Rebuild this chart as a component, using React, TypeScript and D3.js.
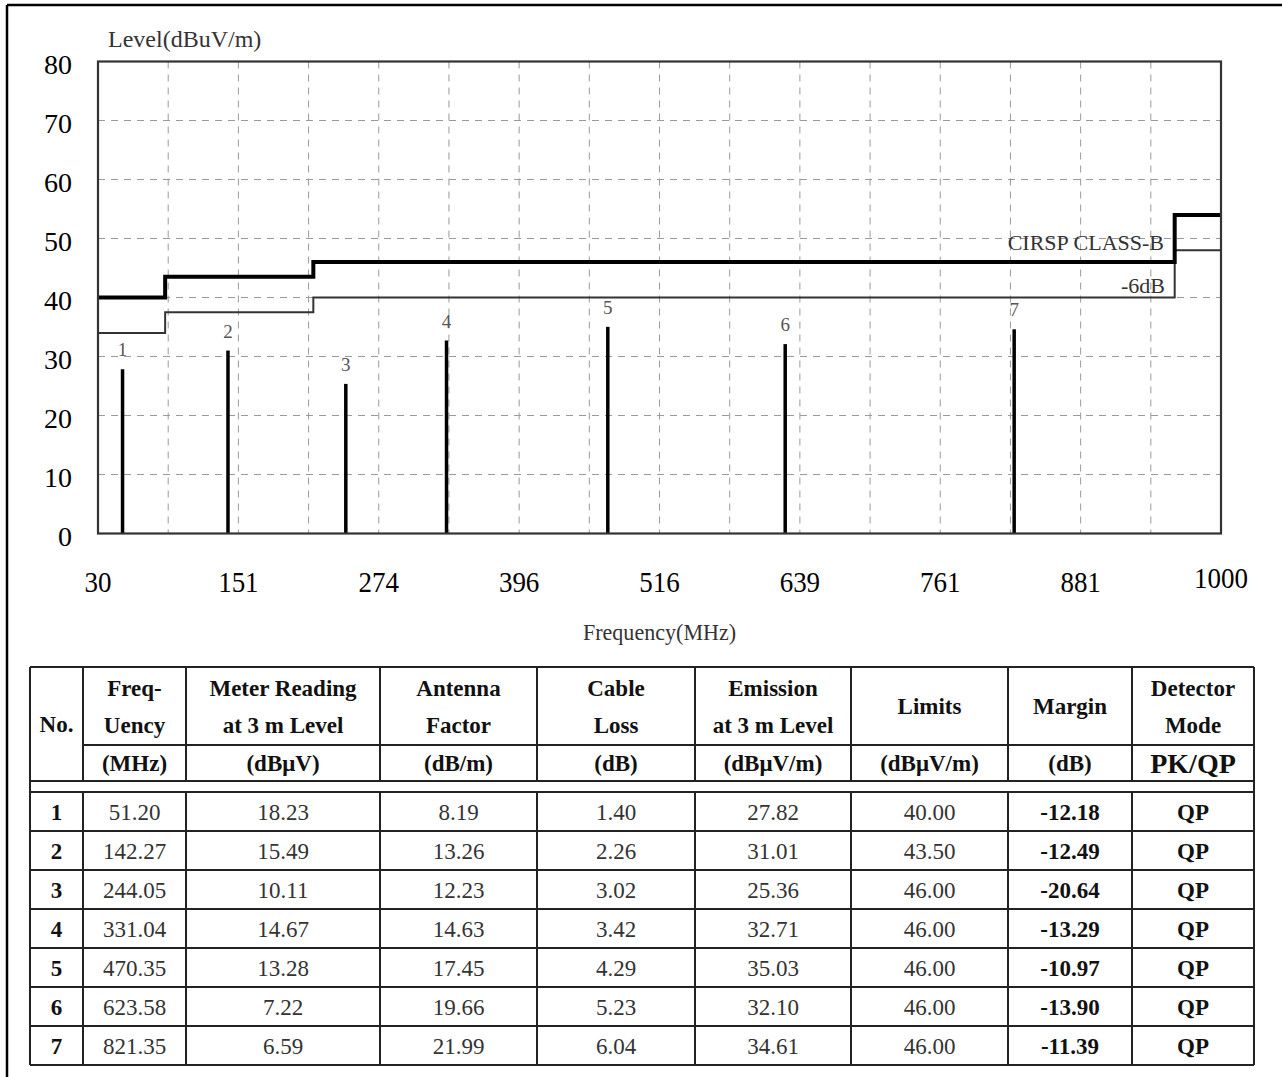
import React from "react";
import * as d3 from "d3";

// ---------- data ----------
const markerNo = [1, 2, 3, 4, 5, 6, 7];
const freqMHz = [51.2, 142.27, 244.05, 331.04, 470.35, 623.58, 821.35];
const meterReading = [18.23, 15.49, 10.11, 14.67, 13.28, 7.22, 6.59];
const antennaFactor = [8.19, 13.26, 12.23, 14.63, 17.45, 19.66, 21.99];
const cableLoss = [1.4, 2.26, 3.02, 3.42, 4.29, 5.23, 6.04];
const emissionLevel = [27.82, 31.01, 25.36, 32.71, 35.03, 32.1, 34.61];
const limitValues = [40.0, 43.5, 46.0, 46.0, 46.0, 46.0, 46.0];
const marginValues = [-12.18, -12.49, -20.64, -13.29, -10.97, -13.9, -11.39];
const detectorMode = ["QP", "QP", "QP", "QP", "QP", "QP", "QP"];

const limitFreqs = [30, 88, 216, 960, 1000];
const classBLimit = [40, 43.5, 46, 54, 54];
const minus6Limit = [34, 37.5, 40, 48, 48];

const xTickLabels = ["30", "151", "274", "396", "516", "639", "761", "881", "1000"];
const yTicks = [0, 10, 20, 30, 40, 50, 60, 70, 80];

const SERIF = "'Liberation Serif', 'Times New Roman', serif";

// ---------- layout ----------
const W = 1282;
const H = 1077;
const plot = { left: 98, right: 1221, top: 61.5, bottom: 533.5 };

const colEdges = [30, 83, 186, 380, 537, 695, 851, 1008, 1132, 1254];
const hTop = 667;
const hMid = 745;
const hBot = 781;
const gapBot = 792;
const rowH = 39;

export default function App() {
  const x = d3.scaleLinear().domain([30, 1000]).range([plot.left, plot.right]);
  const y = d3.scaleLinear().domain([0, 80]).range([plot.bottom, plot.top]);
  const xLabel = d3.scalePoint<string>().domain(xTickLabels).range([plot.left, plot.right]);
  const gridX = d3.scaleLinear().domain([0, 16]).range([plot.left, plot.right]);

  const stepLine = d3
    .line<number>()
    .x((_, i) => x(limitFreqs[i]))
    .y((d) => y(d))
    .curve(d3.curveStepAfter);

  const fmt = (v: number) => v.toFixed(2);

  const rowTop = (i: number) => gapBot + i * rowH;
  const colCenter = (c: number) => (colEdges[c] + colEdges[c + 1]) / 2;
  const tableRight = colEdges[colEdges.length - 1];
  const tableLeft = colEdges[0];

  const headerTwoLine: { col: number; lines: string[]; unit: string; unitBig?: boolean }[] = [
    { col: 1, lines: ["Freq-", "Uency"], unit: "(MHz)" },
    { col: 2, lines: ["Meter Reading", "at 3 m Level"], unit: "(dBμV)" },
    { col: 3, lines: ["Antenna", "Factor"], unit: "(dB/m)" },
    { col: 4, lines: ["Cable", "Loss"], unit: "(dB)" },
    { col: 5, lines: ["Emission", "at 3 m Level"], unit: "(dBμV/m)" },
    { col: 6, lines: ["Limits"], unit: "(dBμV/m)" },
    { col: 7, lines: ["Margin"], unit: "(dB)" },
    { col: 8, lines: ["Detector", "Mode"], unit: "PK/QP", unitBig: true },
  ];

  const columnsData: { values: string[]; bold: boolean }[] = [
    { values: markerNo.map(String), bold: true },
    { values: freqMHz.map(fmt), bold: false },
    { values: meterReading.map(fmt), bold: false },
    { values: antennaFactor.map(fmt), bold: false },
    { values: cableLoss.map(fmt), bold: false },
    { values: emissionLevel.map(fmt), bold: false },
    { values: limitValues.map(fmt), bold: false },
    { values: marginValues.map(fmt), bold: true },
    { values: detectorMode, bold: true },
  ];

  const lineColor = "#222";

  return (
    <svg
      width={W}
      height={H}
      style={{ position: "absolute", left: 0, top: 0, display: "block", background: "#fff" }}
      fontFamily={SERIF}
    >
      <rect x={0} y={0} width={W} height={H} fill="#fff" />
      {/* page frame */}
      <line x1={7} y1={5} x2={W} y2={5} stroke="#000" strokeWidth={2.5} />
      <line x1={7} y1={5} x2={7} y2={H} stroke="#000" strokeWidth={2.5} />

      {/* grid */}
      <g stroke="#9a9a9a" strokeWidth={1} strokeDasharray="7,6">
        {yTicks
          .filter((t) => t > 0 && t < 80)
          .map((t) => (
            <line key={"gy" + t} x1={plot.left} x2={plot.right} y1={y(t)} y2={y(t)} />
          ))}
        {d3.range(1, 16).map((i) => (
          <line key={"gx" + i} x1={gridX(i)} x2={gridX(i)} y1={plot.top} y2={plot.bottom} />
        ))}
      </g>

      {/* limit lines */}
      <path d={stepLine(minus6Limit) || ""} fill="none" stroke="#333" strokeWidth={2} />
      <path d={stepLine(classBLimit) || ""} fill="none" stroke="#000" strokeWidth={4} />

      <text x={1164} y={250} textAnchor="end" fontSize={22} fill="#333">
        CIRSP CLASS-B
      </text>
      <text x={1165} y={293} textAnchor="end" fontSize={22} fill="#333">
        -6dB
      </text>

      {/* markers */}
      {freqMHz.map((f, i) => (
        <g key={"m" + i}>
          <line x1={x(f)} x2={x(f)} y1={y(0)} y2={y(emissionLevel[i])} stroke="#000" strokeWidth={3.5} />
          <text x={x(f)} y={y(emissionLevel[i]) - 13} textAnchor="middle" fontSize={19} fill="#555">
            {markerNo[i]}
          </text>
        </g>
      ))}

      {/* plot border */}
      <rect
        x={plot.left}
        y={plot.top}
        width={plot.right - plot.left}
        height={plot.bottom - plot.top}
        fill="none"
        stroke="#333"
        strokeWidth={2.2}
      />

      {/* y ticks */}
      {yTicks.map((t) => (
        <text key={"yt" + t} x={72} y={y(t) + 12} textAnchor="end" fontSize={28} fill="#000">
          {t}
        </text>
      ))}
      <text x={108} y={47} fontSize={24} fill="#333">
        Level(dBuV/m)
      </text>

      {/* x ticks */}
      {xTickLabels.map((l, i) => (
        <text
          key={"xt" + l}
          transform={`translate(${xLabel(l)},${i === xTickLabels.length - 1 ? 588 : 592}) scale(0.9,1)`}
          textAnchor="middle"
          fontSize={30}
          fill="#000"
        >
          {l}
        </text>
      ))}
      <text transform={`translate(${(plot.left + plot.right) / 2},640) scale(0.92,1)`} textAnchor="middle" fontSize={24} fill="#333">
        Frequency(MHz)
      </text>

      {/* ---------- table ---------- */}
      <g stroke={lineColor} strokeWidth={2} fill="none">
        <line x1={tableLeft} x2={tableRight} y1={hTop} y2={hTop} />
        <line x1={colEdges[1]} x2={tableRight} y1={hMid} y2={hMid} />
        <line x1={tableLeft} x2={tableRight} y1={hBot} y2={hBot} />
        {d3.range(0, markerNo.length + 1).map((i) => (
          <line key={"hr" + i} x1={tableLeft} x2={tableRight} y1={rowTop(i)} y2={rowTop(i)} />
        ))}
        {colEdges.map((cx, i) => (
          <line key={"vh" + i} x1={cx} x2={cx} y1={hTop} y2={hBot} />
        ))}
        <line x1={tableLeft} x2={tableLeft} y1={hBot} y2={gapBot} />
        <line x1={tableRight} x2={tableRight} y1={hBot} y2={gapBot} />
        {colEdges.map((cx, i) => (
          <line key={"vb" + i} x1={cx} x2={cx} y1={gapBot} y2={rowTop(markerNo.length)} />
        ))}
      </g>

      {/* header text */}
      <g fontWeight="bold" fill="#111" textAnchor="middle" fontSize={23}>
        <text x={colCenter(0)} y={(hTop + hBot) / 2 + 8}>
          No.
        </text>
        {headerTwoLine.map((h) => (
          <g key={"h" + h.col}>
            {h.lines.length === 2 ? (
              <>
                <text x={colCenter(h.col)} y={hTop + 29}>
                  {h.lines[0]}
                </text>
                <text x={colCenter(h.col)} y={hTop + 66}>
                  {h.lines[1]}
                </text>
              </>
            ) : (
              <text x={colCenter(h.col)} y={(hTop + hMid) / 2 + 8}>
                {h.lines[0]}
              </text>
            )}
            <text
              x={colCenter(h.col)}
              y={(hMid + hBot) / 2 + (h.unitBig ? 10 : 8)}
              fontSize={h.unitBig ? 28 : 23}
            >
              {h.unit}
            </text>
          </g>
        ))}
      </g>

      {/* body text */}
      <g textAnchor="middle" fontSize={23}>
        {columnsData.map((c, ci) =>
          c.values.map((v, ri) => (
            <text
              key={"c" + ci + "r" + ri}
              x={colCenter(ci)}
              y={rowTop(ri) + rowH / 2 + 8}
              fontWeight={c.bold ? "bold" : "normal"}
              fill={c.bold ? "#111" : "#333"}
            >
              {v}
            </text>
          ))
        )}
      </g>
    </svg>
  );
}
